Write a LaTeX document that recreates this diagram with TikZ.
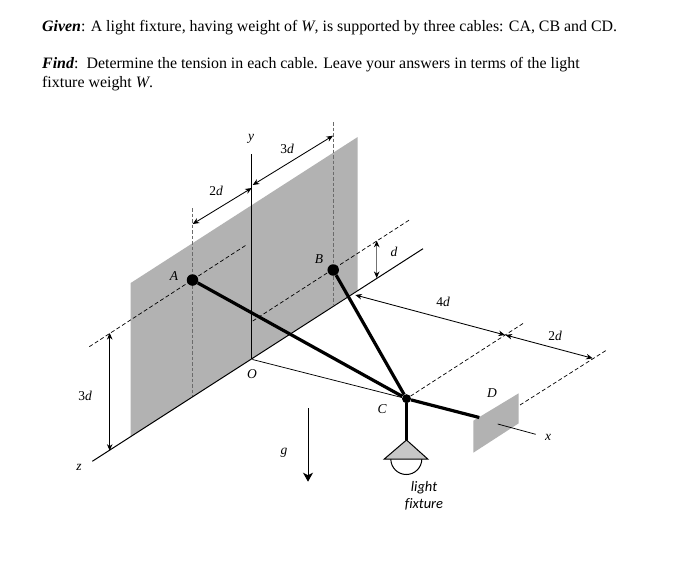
\documentclass[tikz,border=0pt]{standalone}
\usepackage{fontspec}
\setmainfont{Liberation Serif}
\newfontfamily\lampfont{Carlito}
\usetikzlibrary{positioning,arrows.meta}

\begin{document}
\begin{tikzpicture}[x=1pt,y=-1pt,>={Stealth[length=6.5pt,width=5.5pt,inset=2pt]},
    wall/.style={fill=black!30,draw=none},
    axisline/.style={line width=1pt},
    thinline/.style={line width=.75pt},
    guide/.style={line width=.7pt,dash pattern=on 4pt off 2.5pt},
    plumb/.style={line width=1.3pt,black!58,dash pattern=on 3.5pt off 2pt},
    dimline/.style={<->,line width=.85pt},
    cable/.style={line width=3.2pt},
    pin/.style={circle,fill=black,inner sep=0pt,minimum size=11.5pt},
    knot/.style={circle,fill=black,inner sep=0pt,minimum size=9pt},
    lbl/.style={font=\fontsize{13.5}{13.5}\selectfont\itshape,inner sep=0pt},
    para/.style={font=\fontsize{15.9}{16}\selectfont,anchor=base west,inner sep=0pt}]
    \useasboundingbox[fill=white] (0,0) rectangle (679,567);

    \node[para] (given) at (42,32) {\textbf{\textit{Given}}: A light fixture, having weight of \textit{W}, is supported by three cables: CA, CB and CD.};
    \node[para] (find) at (42,69) {\textbf{\textit{Find}}:\, Determine the tension in each cable. Leave your answers in terms of the light};
    \node[para] (find2) at (42,88) {fixture weight \textit{W}.};

    % wall and plate
    \fill[wall] (130.7,283) -- (357.7,137) -- (357.7,290) -- (130.7,436.7) -- cycle;
    \fill[wall] (473.3,420.7) -- (518.7,393.3) -- (518.7,423.3) -- (473.3,452.7) -- cycle;

    % dashed guides
    \coordinate (a1) at (192.7,208);
    \coordinate (a2) at (192.7,396.7);
    \coordinate (b1) at (333.7,122);
    \coordinate (b2) at (333.7,305);
    \draw[plumb] (a1) -- (a2);
    \draw[plumb] (b1) -- (b2);
    \coordinate (c1) at (89.3,346.7);
    \coordinate (c2) at (247.3,244.3);
    \coordinate (c3) at (252.7,321);
    \coordinate (c4) at (409.3,220);
    \coordinate (c5) at (523.3,323.3);
    \coordinate (c6) at (520,405);
    \coordinate (c7) at (606.7,350);
    \draw[guide] (c1) -- (c2);
    \draw[guide] (c3) -- (c4);
    \draw[guide] (c6) -- (c7);

    % points
    \node[pin] (A) at (192.5,280) {};
    \node[pin] (B) at (333.2,270) {};
    \node[knot] (C) at (406.5,398.7) {};
    \node[inner sep=0pt] (D) at (480,417.7) {};
    \node[inner sep=0pt] (O) at (251.7,359.3) {};
    \draw[guide] (C) -- (c5);

    \coordinate (ytop) at (251.7,154);
    \coordinate (zend) at (92.3,461.3);
    \coordinate (wallend) at (423,248.7);
    \coordinate (xin) at (497.7,424);
    \coordinate (xend) at (535.7,434.3);
    \draw[axisline] (O) -- (ytop);
    \draw[axisline] (zend) -- (wallend);
    \draw[thinline] (xin) -- (xend);
    \draw[thinline] (O) -- (C);

    % dimensions
    \coordinate (d1) at (192.7,224);
    \coordinate (d2) at (251.7,188);
    \coordinate (d3) at (252.7,185);
    \coordinate (d4) at (333,135.7);
    \coordinate (d5) at (109.7,333);
    \coordinate (d6) at (109.7,450.7);
    \coordinate (d7) at (376.7,240.7);
    \coordinate (d8) at (376.7,278);
    \coordinate (d9) at (355.3,295);
    \coordinate (d10) at (505,335);
    \coordinate (d11) at (505.5,335);
    \coordinate (d12) at (592.7,358.3);
    \draw[dimline] (d1) -- (d2);
    \draw[dimline] (d3) -- (d4);
    \draw[dimline] (d5) -- (d6);
    \draw[dimline,black!55,line width=1.1pt,arrows={<[black]->[black]}] (d7) -- (d8);
    \draw[dimline] (d9) -- (d10);
    \draw[dimline] (d11) -- (d12);

    % gravity
    \coordinate (g1) at (308,408);
    \coordinate (g2) at (308,481.7);
    \draw[-{Stealth[length=9pt,width=10pt,inset=2.5pt]},line width=1pt] (g1) -- (g2);

    % cables
    \draw[cable] (A) -- (C);
    \draw[cable] (B) -- (C);
    \draw[cable] (C) -- (D);

    % fixture
    \coordinate (lamp) at (406.5,440);
    \coordinate (lampl) at (384.3,459);
    \coordinate (lampr) at (427.7,459);
    \draw[cable] (C) -- (lamp);
    \draw[axisline] (390.8,459) arc[start angle=180,end angle=0,radius=15.5];
    \draw[axisline,fill=black!22] (lamp) -- (lampl) -- (lampr) -- cycle;

    \node[lbl] (ylbl) at (251,139) {y};
    \node[lbl] (zlbl) at (79,467) {z};
    \node[lbl] (xlbl) at (548,437) {x};
    \node[lbl] (glbl) at (284,453) {g};
    \node[lbl] (Albl) at (174,276) {A};
    \node[lbl] (Blbl) at (319,259) {B};
    \node[lbl] (Clbl) at (382,409) {C};
    \node[lbl] (Dlbl) at (492,393) {D};
    \node[lbl] (Olbl) at (252,374) {O};
    \node[lbl] (top3d) at (287,149) {\textup{3}d};
    \node[lbl] (top2d) at (216,191) {\textup{2}d};
    \node[lbl] (rightd) at (394,252) {d};
    \node[lbl] (right4d) at (443,302) {\textup{4}d};
    \node[lbl] (right2d) at (555,336) {\textup{2}d};
    \node[lbl] (left3d) at (85,396) {\textup{3}d};
    \node[font=\lampfont\fontsize{14.5}{17}\selectfont\itshape,align=center,inner sep=0pt] (fixture) at (424,496) {light\\f\kern0pt ixture};
\end{tikzpicture}
\end{document}
